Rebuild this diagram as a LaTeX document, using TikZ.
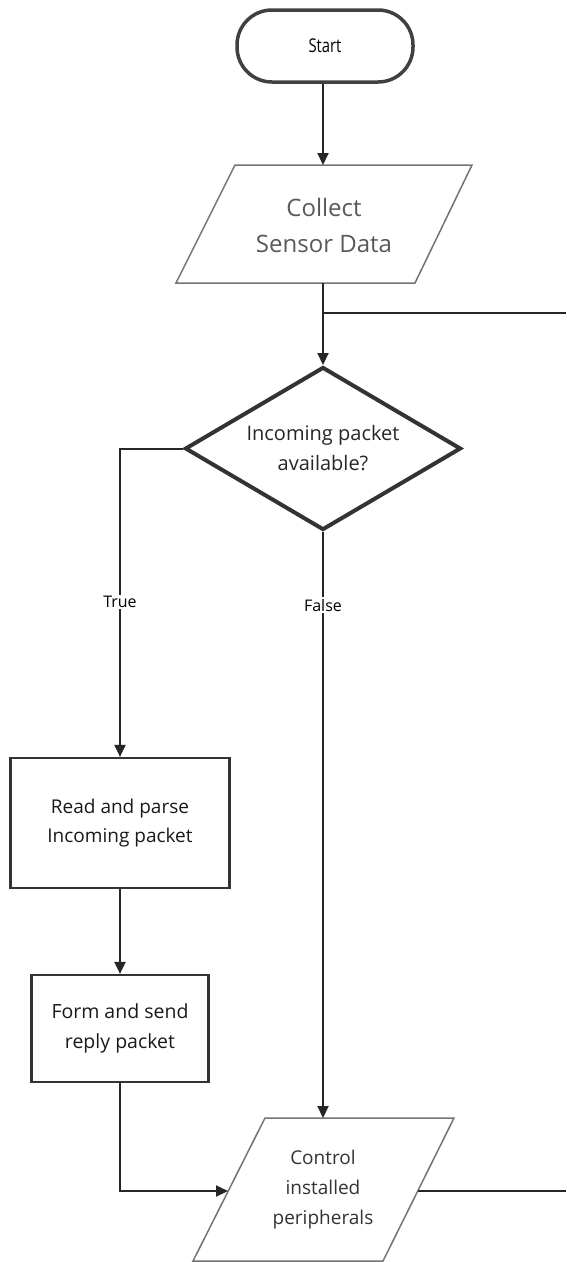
\documentclass[tikz,border=0pt]{standalone}
\usepackage{fontspec}
\setmainfont{Open Sans}
\usetikzlibrary{arrows.meta,shapes.geometric}
\begin{document}
\begin{tikzpicture}[x=1pt,y=-1pt,
  conn/.style={draw=black!85, line width=2pt},
  arr/.style={conn,-{Triangle[width=11pt,length=12pt]}},
  term/.style={draw=black!75,line width=3.5pt,rounded corners=35pt,minimum width=176pt,minimum height=72pt,inner sep=0pt,font=\fontsize{19}{22}\selectfont},
  para/.style={draw=black!55,line width=1.5pt},
  txt/.style={align=center,inner sep=0pt},
  decision/.style={diamond,shape aspect=1.69,draw=black!80,line width=4pt,minimum width=276pt,minimum height=163pt,inner sep=0pt,align=center,font=\fontsize{20}{30}\selectfont,text=black!85},
  proc/.style={rectangle,draw=black!80,line width=2.2pt,inner sep=0pt,align=center,font=\fontsize{19}{29}\selectfont,text=black!90},
  lbl/.style={fill=white,inner sep=1.5pt,font=\fontsize{16}{18}\selectfont}
]
\useasboundingbox (0,0) rectangle (566,1262);

% Start
\node[term] (start) at (325,46) {\scalebox{0.78}[1]{Start}};

% Collect Sensor Data (parallelogram)
\draw[para] (235,165) -- (472,165) -- (415,283) -- (176,283) -- cycle;
\node[txt,font=\fontsize{24}{36}\selectfont,text=black!65] (collect) at (324,225) {Collect\\Sensor Data};
\coordinate (collectTop) at (323,165);
\coordinate (collectBot) at (323,283);
\coordinate (junction) at (323,313);
\coordinate (loopRight) at (566,313);

% Decision
\node[decision] (dec) at (323,448.5) {Incoming packet\\available?};

% Processes
\node[proc,minimum width=219pt,minimum height=130pt] (read) at (120,823) {Read and parse\\Incoming packet};
\node[proc,minimum width=177pt,minimum height=107pt,font=\fontsize{19.5}{30}\selectfont] (form) at (120,1028.5) {Form and send\\reply packet};

% Control installed peripherals (parallelogram)
\draw[para] (265,1118) -- (454,1118) -- (383,1261) -- (193,1261) -- cycle;
\node[txt,font=\fontsize{19}{30}\selectfont,text=black!80] (ctrl) at (323,1190) {Control\\installed\\peripherals};
\coordinate (ctrlTop) at (323,1118);
\coordinate (ctrlLeft) at (228,1191);
\coordinate (ctrlRight) at (418,1191);
\coordinate (exitRight) at (566,1191);

% Connectors
\draw[arr] (start.south) ++(-2,0) coordinate (s0) -- (collectTop);
\draw[arr] (collectBot) -- (dec.north);
\draw[conn] (junction) -- (loopRight);
\draw[arr] (dec.west) -| (read.north);
\draw[arr] (dec.south) -- (ctrlTop);
\draw[arr] (read.south) -- (form.north);
\draw[arr] (form.south) |- (ctrlLeft);
\draw[conn] (ctrlRight) -- (exitRight);

% Labels
\node[lbl] (tlbl) at (120,602) {True};
\node[lbl] (flbl) at (323,605) {False};
\end{tikzpicture}
\end{document}
